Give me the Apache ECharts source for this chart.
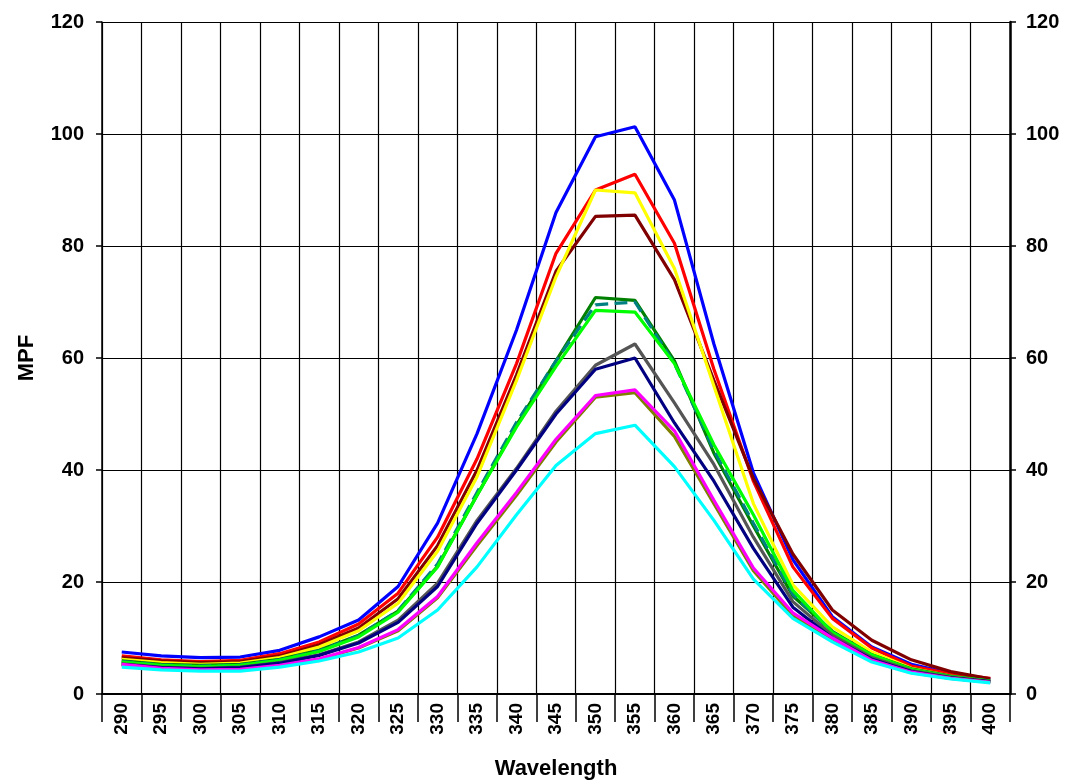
<!DOCTYPE html>
<html>
<head>
<meta charset="utf-8">
<script src="https://cdn.jsdelivr.net/npm/echarts@6/dist/echarts.min.js"></script>
<style>html,body{margin:0;padding:0;background:#fff;}#c{width:1068px;height:780px;}</style>
</head>
<body>
<div id="c"></div>
<script>
const wavelengths = ['290','295','300','305','310','315','320','325','330','335','340','345','350','355','360','365','370','375','380','385','390','395','400'];
const yTicks = [0, 20, 40, 60, 80, 100, 120];

const blue    = [7.5, 6.8, 6.5, 6.6, 7.8, 10.2, 13.2, 19.2, 30.5, 46.5, 65, 86, 99.5, 101.3, 88.2, 62.5, 39.5, 24, 13.8, 8.4, 5.3, 3.7, 2.6];
const red     = [6.8, 6.1, 5.8, 6.0, 7.2, 9.3, 12.5, 18, 28, 42, 59, 78.7, 90, 92.8, 80.5, 58, 38, 22.7, 13.5, 8.2, 5.0, 3.6, 2.8];
const maroon  = [6.5, 5.9, 5.6, 5.8, 6.8, 8.8, 11.8, 17, 26.5, 40, 57, 75.5, 85.3, 85.5, 74, 56, 38.5, 25, 15, 9.6, 6.1, 4.0, 2.7];
const yellow  = [6.2, 5.6, 5.3, 5.5, 6.5, 8.4, 11.3, 16.2, 25.5, 38.8, 56, 74.5, 90, 89.5, 76, 55, 34, 19.5, 12, 7.5, 4.6, 3.2, 2.1];
const dkgreen = [5.9, 5.3, 5.1, 5.3, 6.2, 7.8, 10.5, 14.8, 22.8, 35.5, 48, 59.5, 70.8, 70.3, 59.5, 43, 30, 17.5, 11.2, 7.0, 4.5, 3.2, 2.3];
const teal    = [5.8, 5.2, 5.0, 5.2, 6.1, 7.7, 10.4, 14.9, 23.2, 36, 48.5, 59.5, 69.5, 70, 59, 43.5, 30.5, 17.8, 11, 6.9, 4.4, 3.1, 2.3];
const lime    = [5.7, 5.1, 4.9, 5.1, 6.0, 7.6, 10.2, 14.6, 22.7, 35.5, 47.7, 58.5, 68.5, 68.2, 59, 44.5, 32, 18.5, 11, 7, 4.4, 3.1, 2.3];
const gray    = [5.4, 4.8, 4.6, 4.8, 5.6, 7.0, 9.3, 13.2, 19.8, 31, 40.3, 50.5, 58.7, 62.5, 52, 41, 28, 16.5, 10.5, 6.5, 4.2, 3.0, 2.2];
const navy    = [5.3, 4.7, 4.5, 4.7, 5.5, 6.9, 9.1, 12.8, 19.2, 30.5, 40, 50, 58, 60, 48.4, 38, 26, 15.5, 10, 6.2, 4.0, 2.9, 2.2];
const olive   = [5.2, 4.5, 4.2, 4.3, 5.0, 6.2, 8.2, 11.3, 17.2, 26.5, 35.5, 45, 53, 53.8, 46, 34, 22, 14, 9.8, 5.9, 3.8, 2.8, 2.1];
const magenta = [5.3, 4.6, 4.3, 4.4, 5.1, 6.3, 8.3, 11.5, 17.4, 27, 36, 45.5, 53.3, 54.3, 47, 34.6, 22.5, 14.5, 10, 6, 3.9, 2.8, 2.1];
const cyan    = [4.8, 4.3, 4.1, 4.1, 4.8, 5.9, 7.5, 10, 15, 22.7, 32, 40.8, 46.5, 48, 40.6, 31, 20.5, 13.5, 9.3, 5.7, 3.7, 2.7, 2.0];

const seriesDefs = [
  ['blue', blue, '#0000ff', 'solid'],
  ['red', red, '#ff0000', 'solid'],
  ['maroon', maroon, '#800000', 'solid'],
  ['yellow', yellow, '#ffff00', 'solid'],
  ['dkgreen', dkgreen, '#008000', 'solid'],
  ['teal', teal, '#008080', 'dashed'],
  ['lime', lime, '#00ff00', 'solid'],
  ['gray', gray, '#555555', 'solid'],
  ['navy', navy, '#000080', 'solid'],
  ['olive', olive, '#808000', 'solid'],
  ['magenta', magenta, '#ff00ff', 'solid'],
  ['cyan', cyan, '#00ffff', 'solid']
];

const font = '"Liberation Sans", Arial, sans-serif';
const chart = echarts.init(document.getElementById('c'));
const yAxisBase = {
  type: 'value', min: 0, max: 120, interval: 20,
  axisLine: {show: true, lineStyle: {color: '#000', width: 1.5}},
  axisTick: {show: true, length: 6, lineStyle: {color: '#000', width: 1.5}},
  splitLine: {show: false},
  axisLabel: {color: '#000', fontFamily: font, fontWeight: 'bold', fontSize: 20}
};
chart.setOption({
  animation: false,
  backgroundColor: '#fff',
  grid: {left: 102, right: 58, top: 22, bottom: 86, containLabel: false, outerBoundsMode: 'none'},
  xAxis: {
    type: 'category', data: wavelengths, boundaryGap: true,
    name: 'Wavelength', nameLocation: 'middle', nameGap: 64,
    nameTextStyle: {color: '#000', fontFamily: font, fontWeight: 'bold', fontSize: 22},
    axisLine: {show: true, onZero: false, lineStyle: {color: '#000', width: 2}},
    axisTick: {show: true, length: 28, interval: 0, lineStyle: {color: '#000', width: 1.5}},
    axisLabel: {interval: 0, rotate: 90, margin: 9, color: '#000', fontFamily: font, fontWeight: 'bold', fontSize: 19},
    splitLine: {show: true, interval: 0, lineStyle: {color: '#000', width: 1.2}}
  },
  yAxis: [
    Object.assign({}, yAxisBase, {
      position: 'left', name: 'MPF', nameLocation: 'middle', nameGap: 64,
      nameTextStyle: {color: '#000', fontFamily: font, fontWeight: 'bold', fontSize: 22},
      splitLine: {show: true, lineStyle: {color: '#000', width: 1.2}},
      axisLabel: Object.assign({}, yAxisBase.axisLabel, {margin: 18})
    }),
    Object.assign({}, yAxisBase, {
      position: 'right',
      axisLine: {show: true, lineStyle: {color: '#000', width: 2.5}},
      axisLabel: Object.assign({}, yAxisBase.axisLabel, {margin: 16})
    })
  ],
  series: seriesDefs.map(([name, data, color, type]) => ({
    name, type: 'line', data, yAxisIndex: 0,
    symbol: 'none', smooth: false,
    lineStyle: {color, width: 3.2, type}
  }))
});
</script>
</body>
</html>
